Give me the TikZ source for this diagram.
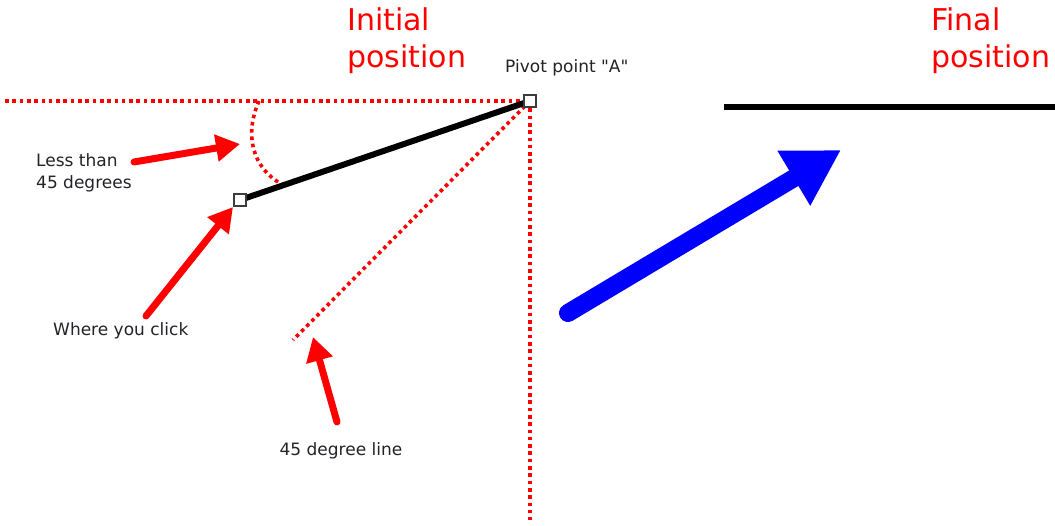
\documentclass[tikz,border=0pt]{standalone}
\usepackage{fontspec}
\setmainfont{DejaVu Sans}[Ligatures=TeXOff]
\usetikzlibrary{arrows.meta}
\definecolor{txt}{RGB}{34,34,40}
\definecolor{sqborder}{RGB}{60,60,60}
\tikzset{
  reddots/.style={draw=red, line width=3.6pt, dash pattern=on 3.6pt off 3.7pt},
  redarrow/.style={draw=red, line width=7pt, line cap=round, -{Triangle[length=24pt,width=26pt]}},
  bluearrow/.style={draw=blue, line width=18pt, line cap=round, -{Triangle[length=55pt,width=60pt]}},
  handle/.style={draw=sqborder, fill=white, line width=1.8pt, minimum size=12pt, inner sep=0pt, rectangle},
  title/.style={text=red, font=\fontsize{30}{37}\selectfont, align=left, inner sep=0pt, anchor=north west},
  label/.style={text=txt, font=\fontsize{17}{22}\selectfont, align=left, inner sep=0pt},
}
\begin{document}
\begin{tikzpicture}[x=1pt,y=-1pt]
\useasboundingbox (0,0) rectangle (1055,525);
% titles
\node[title] (init) at (347,8) {Initial\\position};
\node[title] (final) at (931,8) {Final\\position};
\node[label, anchor=west] (pivotlbl) at (505,68) {Pivot point "A"};
% key points
\coordinate (pA) at (530,101);
\coordinate (pC) at (240,200);
\coordinate (hl) at (5,101);
\coordinate (vb) at (530,520);
\coordinate (d45) at (293,340);
\coordinate (arcS) at (259,101);
\coordinate (arcE) at (283,185);
% dotted reference lines
\draw[reddots] (hl) -- (pA);
\draw[reddots] (pA) -- (vb);
\draw[reddots] (pA) -- (d45);
\draw[reddots] (arcS) .. controls (244,135) and (252,168) .. (arcE);
% bar
\draw[black, line width=6pt] (pC) -- (pA);
\node[handle] (A) at (pA) {};
\node[handle] (C) at (pC) {};
% labels
\node[label, anchor=north west] (less) at (36,153) {Less than\\45 degrees};
\node[label, anchor=west] (click) at (53,331) {Where you click};
\node[label] (deg) at (341,451) {45 degree line};
% red arrows
\coordinate (t1) at (134,162);
\coordinate (h1) at (240,144);
\coordinate (t2) at (146,316);
\coordinate (h2) at (233,207);
\coordinate (t3) at (337,422);
\coordinate (h3) at (313,337);
\draw[redarrow] (t1) -- (h1);
\draw[redarrow] (t2) -- (h2);
\draw[redarrow] (t3) -- (h3);
% blue arrow
\coordinate (bt) at (568,313);
\coordinate (bh) at (841,150);
\draw[bluearrow] (bt) -- (bh);
% final bar
\coordinate (f1) at (724,107);
\coordinate (f2) at (1055,107);
\draw[black, line width=6pt] (f1) -- (f2);
\end{tikzpicture}
\end{document}
